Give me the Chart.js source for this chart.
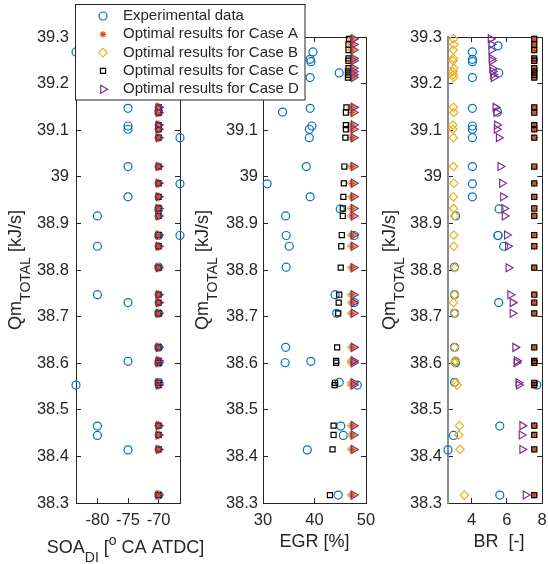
<!DOCTYPE html>
<html><head><meta charset="utf-8">
<script src="https://cdn.jsdelivr.net/npm/chart.js@4.4.1/dist/chart.umd.min.js"></script>
<style>
html,body{margin:0;padding:0;background:#fff;}
#wrap{position:relative;width:548px;height:564px;overflow:hidden;background:#fff;}
#wrap canvas{position:absolute;left:0;top:0;}
</style></head><body>
<div id="wrap">
<canvas id="c3" width="548" height="564"></canvas>
<canvas id="c2" width="548" height="564"></canvas>
<canvas id="c1" width="548" height="564"></canvas>
</div>
<script>
// ---------------- DATA ----------------
const seriesNames = ['Experimental data','Optimal results for Case A','Optimal results for Case B','Optimal results for Case C','Optimal results for Case D'];

const yTicks = [38.3,38.4,38.5,38.6,38.7,38.8,38.9,39.0,39.1,39.2,39.3];
const soaTicks = [-80,-75,-70];
const egrTicks = [30,40,50];
const brTicks = [4,6,8];

// experimental data
const expQ   = [39.281,39.268,39.252,39.247,39.223,39.213,39.147,39.139,39.109,39.102,39.084,39.022,38.985,38.957,38.931,38.916,38.874,38.874,38.851,38.806,38.747,38.730,38.707,38.634,38.604,38.601,38.559,38.553,38.465,38.445,38.414,38.317];
const expSOA = [-70,-83.5,-75,-75,-70,-75,-75,-70,-75,-75,-66.5,-75,-66.5,-75,-70,-80,-66.5,-70,-80,-70,-80,-75,-70,-70,-75,-70,-70,-83.5,-80,-80,-75,-70];
const expEGR = [36,39.7,39.15,39.3,44.8,39.15,39.15,33.8,39.5,39.0,39.0,38.4,30.8,39.15,45.0,34.4,34.5,47.7,35.1,34.5,44.0,47.7,44.3,34.4,39.3,34.3,44.8,48.3,45.1,45.6,38.6,44.6];
const expBR  = [5.5,4.05,4.05,4.05,5.54,4.05,4.05,5.47,4.05,4.05,4.05,4.05,4.05,4.05,5.56,3.1,5.5,5.5,5.82,3.04,3.04,5.54,3.04,3.04,3.1,3.09,3.04,7.7,5.6,2.98,2.67,5.6];

// optimal results (shared operating points)
const optQ = [39.296,39.284,39.272,39.254,39.249,39.233,39.226,39.219,39.213,39.149,39.138,39.111,39.102,39.084,39.022,38.986,38.957,38.932,38.916,38.875,38.851,38.805,38.747,38.730,38.707,38.634,38.605,38.601,38.558,38.553,38.466,38.446,38.415,38.317];

const soaA = [-70,-70,-70,-70,-70,-70,-70,-70,-70,-70,-70,-70,-70,-70,-70,-70,-70,-70,-70,-70,-70,-70,-70,-70,-70,-70,-70,-70,-70,-70,-70,-70,-70,-70];
const soaB = [-70,-70,-70,-70,-70,-70,-70,-70,-70,-70,-70,-70,-70,-70,-70,-70,-70,-70,-70,-70,-70,-70,-70,-70,-70,-70,-70,-70,-70,-70,-70,-70,-70,-70];
const soaC = [-70,-70,-70,-70,-70,-70,-70,-70,-70,-70,-70,-70,-70,-70,-70,-70,-70,-70,-70,-70,-70,-70,-70,-70,-70,-70,-70,-70,-70,-70,-70,-70,-70,-70];
const soaD = [-70,-70,-70,-70,-70,-70,-70,-70,-70,-70,-70,-70,-70,-70,-70,-70,-70,-70,-70,-70,-70,-70,-70,-70,-70,-70,-70,-70,-70,-70,-70,-70,-70,-70];

const egrA = [47.3,47.3,47.3,47.3,47.3,47.3,47.3,47.3,47.3,47.3,47.3,47.3,47.3,47.3,47.3,47.3,47.3,47.3,47.3,47.3,47.3,47.3,47.3,47.3,47.3,47.3,47.3,47.3,47.3,47.3,47.3,47.3,47.3,47.3];
const egrB = [47.2,47.2,47.2,47.2,47.2,47.2,47.2,47.2,47.2,47.2,47.2,47.2,47.2,47.2,47.2,47.2,47.2,47.2,47.2,47.2,47.2,47.2,47.2,47.2,47.2,47.2,47.2,47.2,47.2,47.2,47.2,47.2,47.2,47.2];
const egrC = [46.7,46.6,46.6,46.6,46.6,46.6,46.5,46.6,46.5,46.2,46.1,46.1,46.1,46.0,45.8,45.7,45.6,45.5,45.5,45.3,45.2,45.1,44.8,44.7,44.6,44.4,44.2,44.2,44.0,43.9,43.7,43.7,43.5,43.0];
const egrD = [47.6,47.6,47.6,47.6,47.6,47.6,47.6,47.6,47.6,47.6,47.6,47.6,47.6,47.6,47.6,47.6,47.6,47.6,47.6,47.6,47.6,47.6,47.6,47.6,47.6,47.6,47.6,47.6,47.6,47.6,47.6,47.6,47.6,47.6];

const brA = [7.55,7.55,7.55,7.55,7.55,7.55,7.55,7.55,7.55,7.55,7.55,7.55,7.55,7.55,7.55,7.55,7.55,7.55,7.55,7.55,7.55,7.55,7.55,7.55,7.55,7.55,7.55,7.55,7.55,7.55,7.55,7.55,7.55,7.55];
const brB = [2.98,3.0,2.97,2.98,2.96,3.0,2.95,2.97,2.99,2.98,3.0,2.95,2.95,2.98,2.98,3.0,2.98,2.98,3.05,3.0,3.0,3.04,3.04,2.98,3.04,3.04,3.1,3.04,3.1,3.18,3.32,3.28,3.35,3.6];
const brC = [7.55,7.55,7.55,7.55,7.55,7.55,7.55,7.55,7.55,7.55,7.55,7.55,7.55,7.55,7.55,7.55,7.55,7.55,7.55,7.55,7.55,7.55,7.55,7.55,7.55,7.55,7.55,7.55,7.55,7.55,7.55,7.55,7.55,7.55];
const brD = [5.08,5.12,5.12,5.13,5.15,5.17,5.2,5.22,5.25,5.35,5.4,5.44,5.42,5.54,5.63,5.72,5.78,5.85,5.87,6.0,6.06,6.09,6.19,6.32,6.32,6.47,6.56,6.54,6.65,6.68,6.87,6.83,6.87,7.06];

// ---------------- STYLE ----------------
const TXT = '#262626';
const FONT = '"Liberation Sans", Arial, Helvetica, sans-serif';
const TICK_FONT = 16.5, TITLE_FONT = 18, SUB_FONT = 14, LEG_FONT = 15;
const styles = [
  {pointStyle:'circle',  color:'#0072BD', radius:4.0, rotation:0},
  {pointStyle:'star',    color:'#D95319', radius:3.3, rotation:0},
  {pointStyle:'rectRot', color:'#EDB120', radius:4.2, rotation:0},
  {pointStyle:'rect',    color:'#000000', radius:3.6, rotation:0},
  {pointStyle:'triangle',color:'#7E2F8E', radius:4.6, rotation:90}
];
const MARK_W = 1.2;
const TOP = 37, BOTTOM = 503, YW = 70, XH = 30;

function ds(i, xs, ys) {
  const s = styles[i];
  return {
    label: seriesNames[i],
    data: xs.map((v, k) => ({x: v, y: ys[k]})),
    pointStyle: s.pointStyle, pointRadius: s.radius, pointHoverRadius: s.radius,
    pointBorderColor: s.color, pointBackgroundColor: 'rgba(0,0,0,0)',
    pointBorderWidth: MARK_W, pointRotation: s.rotation,
    showLine: false, clip: false, order: 5 - i
  };
}

function drawRich(ctx, segs, cx, baseline) {
  let total = 0;
  segs.forEach(s => {
    ctx.font = ((s.sub || s.sup) ? SUB_FONT : TITLE_FONT) + 'px ' + FONT;
    s._w = ctx.measureText(s.t).width; total += s._w;
  });
  let x = cx - total / 2;
  segs.forEach(s => {
    ctx.font = ((s.sub || s.sup) ? SUB_FONT : TITLE_FONT) + 'px ' + FONT;
    const dy = s.sub ? 9 : (s.sup ? -8 : 0);
    ctx.fillText(s.t, x, baseline + dy);
    x += s._w;
  });
}

const richTitles = {
  id: 'richTitles',
  afterDraw(chart, args, o) {
    const ctx = chart.ctx, a = chart.chartArea;
    ctx.save();
    ctx.fillStyle = TXT; ctx.textAlign = 'left'; ctx.textBaseline = 'alphabetic';
    drawRich(ctx, o.x, (a.left + a.right) / 2 + o.xShift, o.xBaseline);
    ctx.translate(a.left - o.yOffset, (a.top + a.bottom) / 2);
    ctx.rotate(-Math.PI / 2);
    drawRich(ctx, o.y, 0, 0);
    ctx.restore();
  }
};

const legendBox = {
  id: 'legendBox',
  afterDraw(chart) {
    const ctx = chart.ctx;
    ctx.save();
    ctx.fillStyle = '#ffffff';
    ctx.fillRect(75.5, 4.5, 229.5, 95.5);
    ctx.strokeStyle = TXT; ctx.lineWidth = 1;
    ctx.strokeRect(75.5, 4.5, 229.5, 95.5);
    ctx.font = LEG_FONT + 'px ' + FONT;
    ctx.textAlign = 'left'; ctx.textBaseline = 'middle';
    seriesNames.forEach((name, i) => {
      const y = 16 + i * 18.3;
      const s = styles[i];
      ctx.strokeStyle = s.color; ctx.fillStyle = 'rgba(0,0,0,0)'; ctx.lineWidth = MARK_W;
      Chart.helpers.drawPoint(ctx, {pointStyle: s.pointStyle, radius: s.radius, rotation: s.rotation, borderWidth: MARK_W}, 103, y);
      ctx.fillStyle = TXT;
      ctx.fillText(name, 123, y);
    });
    ctx.restore();
  }
};

function setTicks(arr) { return function (scale) { scale.ticks = arr.map(v => ({value: v})); }; }
function fmt(v) { return String(parseFloat(Number(v).toFixed(1))); }

function makeChart(id, p) {
  const tickFont = {family: FONT, size: TICK_FONT, lineHeight: 1};
  const common = {
    type: 'linear',
    grid: {display: true, drawOnChartArea: false, drawTicks: true, tickLength: -5, tickColor: TXT, tickWidth: 1},
    border: {display: true, color: TXT, width: 1}
  };
  const extra = p.extraPlugins || [];
  return new Chart(document.getElementById(id), {
    type: 'scatter',
    data: {datasets: p.datasets},
    options: {
      responsive: false, animation: false, events: [],
      layout: {padding: {left: p.left - YW, right: 548 - p.right, top: TOP, bottom: 564 - BOTTOM - XH}},
      plugins: {legend: {display: false}, tooltip: {enabled: false}, richTitles: p.titles},
      scales: {
        x: Object.assign({}, common, {
          position: 'bottom', min: p.xmin, max: p.xmax,
          afterBuildTicks: setTicks(p.xTicks),
          afterFit(s) { s.height = XH; s.paddingLeft = 0; s.paddingRight = 0; },
          ticks: {font: tickFont, color: TXT, padding: 14, maxRotation: 0, autoSkip: false, callback: v => String(v)}
        }),
        xTop: Object.assign({}, common, {
          position: 'top', min: p.xmin, max: p.xmax,
          afterBuildTicks: setTicks(p.xTicks),
          afterFit(s) { s.height = 0; s.paddingLeft = 0; s.paddingRight = 0; },
          ticks: {display: false}
        }),
        y: Object.assign({}, common, {
          position: 'left', min: 38.3, max: 39.3,
          afterBuildTicks: setTicks(yTicks),
          afterFit(s) { s.width = YW; s.paddingTop = 0; s.paddingBottom = 0; },
          border: {display: true, color: p.leftBorderColor || TXT, width: p.leftBorderWidth || 1},
          ticks: {font: tickFont, color: TXT, padding: p.yPad, autoSkip: false, callback: fmt}
        }),
        yRight: Object.assign({}, common, {
          position: 'right', min: 38.3, max: 39.3,
          afterBuildTicks: setTicks(yTicks),
          afterFit(s) { s.width = 0; s.paddingTop = 0; s.paddingBottom = 0; },
          ticks: {display: false}
        })
      }
    },
    plugins: [richTitles].concat(extra)
  });
}

const yTitle = [{t: 'Qm'}, {t: 'TOTAL', sub: true}, {t: ' [kJ/s]'}];

makeChart('c3', {
  left: 448, right: 544, xmin: 2.67, xmax: 8, xTicks: brTicks, yPad: 11,
  leftBorderColor: '#8c8c8c', leftBorderWidth: 2,
  datasets: [ds(0, expBR, expQ), ds(1, brA, optQ), ds(2, brB, optQ), ds(3, brC, optQ), ds(4, brD, optQ)],
  titles: {x: [{t: 'BR  [-]'}], xShift: 4, xBaseline: 547, y: yTitle, yOffset: 53}
});
makeChart('c2', {
  left: 263, right: 366, xmin: 30, xmax: 50, xTicks: egrTicks, yPad: 10,
  datasets: [ds(0, expEGR, expQ), ds(1, egrA, optQ), ds(2, egrB, optQ), ds(3, egrC, optQ), ds(4, egrD, optQ)],
  titles: {x: [{t: 'EGR [%]'}], xShift: 0, xBaseline: 547, y: yTitle, yOffset: 55}
});
makeChart('c1', {
  left: 76, right: 180, xmin: -83.5, xmax: -66.5, xTicks: soaTicks, yPad: 12,
  datasets: [ds(0, expSOA, expQ), ds(1, soaA, optQ), ds(2, soaB, optQ), ds(3, soaC, optQ), ds(4, soaD, optQ)],
  titles: {x: [{t: 'SOA'}, {t: 'DI', sub: true}, {t: ' ['}, {t: 'o', sup: true}, {t: ' CA ATDC]'}], xShift: -2.5, xBaseline: 553, y: yTitle, yOffset: 55},
  extraPlugins: [legendBox]
});
</script>
</body></html>
